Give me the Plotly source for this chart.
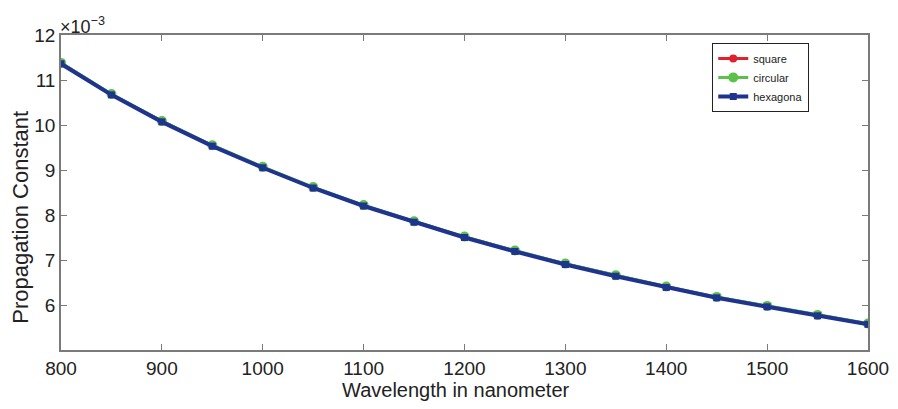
import plotly.graph_objects as go

wavelength = [800, 850, 900, 950, 1000, 1050, 1100, 1150, 1200, 1250, 1300, 1350, 1400, 1450, 1500, 1550, 1600]
# propagation constant in units of 1e-3
square = [11.37, 10.68, 10.08, 9.54, 9.06, 8.61, 8.21, 7.85, 7.51, 7.20, 6.91, 6.65, 6.40, 6.17, 5.97, 5.77, 5.58]
circular = [11.38, 10.69, 10.09, 9.55, 9.07, 8.62, 8.22, 7.86, 7.52, 7.21, 6.92, 6.66, 6.41, 6.18, 5.98, 5.78, 5.59]
hexagonal = [11.36, 10.67, 10.07, 9.53, 9.05, 8.60, 8.20, 7.84, 7.50, 7.19, 6.90, 6.64, 6.39, 6.16, 5.96, 5.76, 5.57]
series_names = ["square", "circular", "hexagona"]
x_ticks = [800, 900, 1000, 1100, 1200, 1300, 1400, 1500, 1600]
y_ticks = [6, 7, 8, 9, 10, 11, 12]

fig = go.Figure()
fig.add_trace(go.Scatter(x=wavelength, y=square, name=series_names[0], mode="lines+markers",
                         line=dict(color="#e0202a", width=3), marker=dict(color="#e0202a", size=8)))
fig.add_trace(go.Scatter(x=wavelength, y=circular, name=series_names[1], mode="lines+markers",
                         line=dict(color="#5cc04a", width=3), marker=dict(color="#5cc04a", size=10)))
fig.add_trace(go.Scatter(x=wavelength, y=hexagonal, name=series_names[2], mode="lines+markers",
                         line=dict(color="#1f3390", width=4), marker=dict(color="#1f3390", size=7, symbol="square")))

axis_common = dict(showgrid=False, zeroline=False, showline=True, linecolor="#7a7a7a", linewidth=1.5,
                   mirror="ticks", ticks="inside", ticklen=6, tickcolor="#7a7a7a", automargin=False,
                   tickfont=dict(family="Arial, Liberation Sans", size=19, color="#222"))

fig.update_layout(
    width=898, height=409,
    margin=dict(l=61, r=30, t=35, b=59),
    paper_bgcolor="white", plot_bgcolor="white",
    font=dict(family="Arial, Liberation Sans", color="#222"),
    xaxis=dict(range=[800, 1600], tickvals=x_ticks, **axis_common),
    yaxis=dict(range=[5, 12], tickvals=y_ticks, **axis_common),
    legend=dict(x=0.807, y=0.975, xanchor="left", yanchor="top", bgcolor="white",
                bordercolor="#222", borderwidth=1, font=dict(size=11),
                itemwidth=30, tracegroupgap=0),
    showlegend=True,
)
fig.add_annotation(text="Wavelength in nanometer", xref="paper", yref="paper", x=0.49, y=0,
                   xanchor="center", yanchor="middle", yshift=-40, showarrow=False,
                   font=dict(size=20, color="#222"))
fig.add_annotation(text="Propagation Constant", xref="paper", yref="paper", x=0, y=0.42,
                   xanchor="center", yanchor="middle", xshift=-40, showarrow=False, textangle=-90,
                   font=dict(size=22, color="#222"))
fig.add_annotation(text="×10<sup>−3</sup>", xref="paper", yref="paper", x=0, y=1.0,
                   xanchor="left", yanchor="bottom", showarrow=False,
                   font=dict(size=18, color="#222"), xshift=-3, yshift=-4)

fig.write_html("out.html", config={"displayModeBar": False},
               post_script="document.body.style.margin='0px';document.body.style.overflow='hidden';")
